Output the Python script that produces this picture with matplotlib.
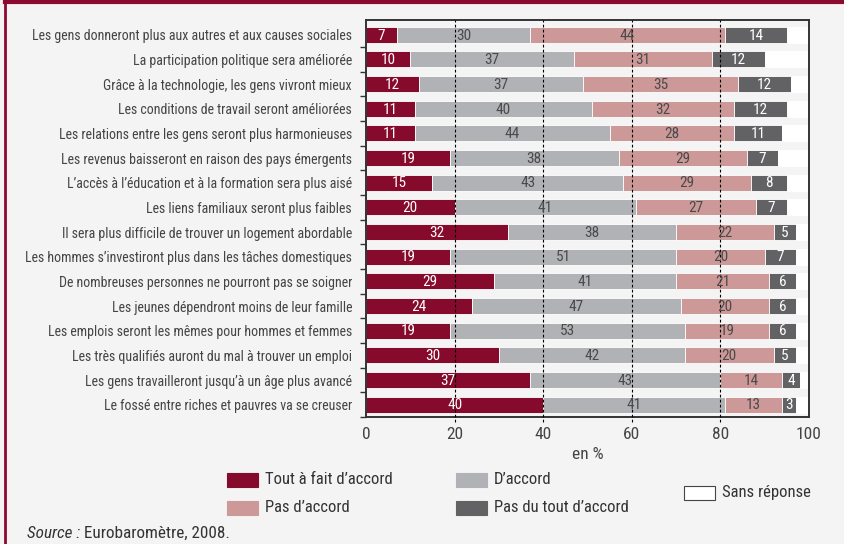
import matplotlib
matplotlib.use("Agg")
import matplotlib.pyplot as plt
from matplotlib import font_manager
from matplotlib.patches import Rectangle
from matplotlib.lines import Line2D
import numpy as np

# données (en %)
questions = [
    "Les gens donneront plus aux autres et aux causes sociales",
    "La participation politique sera améliorée",
    "Grâce à la technologie, les gens vivront mieux",
    "Les conditions de travail seront améliorées",
    "Les relations entre les gens seront plus harmonieuses",
    "Les revenus baisseront en raison des pays émergents",
    "L’accès à l’éducation et à la formation sera plus aisé",
    "Les liens familiaux seront plus faibles",
    "Il sera plus difficile de trouver un logement abordable",
    "Les hommes s’investiront plus dans les tâches domestiques",
    "De nombreuses personnes ne pourront pas se soigner",
    "Les jeunes dépendront moins de leur famille",
    "Les emplois seront les mêmes pour hommes et femmes",
    "Les très qualifiés auront du mal à trouver un emploi",
    "Les gens travailleront jusqu’à un âge plus avancé",
    "Le fossé entre riches et pauvres va se creuser",
]
tout_accord = [7, 10, 12, 11, 11, 19, 15, 20, 32, 19, 29, 24, 19, 30, 37, 40]
accord = [30, 37, 37, 40, 44, 38, 43, 41, 38, 51, 41, 47, 53, 42, 43, 41]
pas_accord = [44, 31, 35, 32, 28, 29, 29, 27, 22, 20, 21, 20, 19, 20, 14, 13]
pas_du_tout = [14, 12, 12, 12, 11, 7, 8, 7, 5, 7, 6, 6, 6, 5, 4, 3]
series_names = ["Tout à fait d’accord", "D’accord", "Pas d’accord",
                "Pas du tout d’accord", "Sans réponse"]

colors = ["#850a2b", "#b1b2b6", "#cc9998", "#626264", "#ffffff"]
text_colors = ["white", "#4a4a4a", "#4a4a4a", "white"]
bg = "#f4f4f4"


def pick_font(names):
    avail = {f.name for f in font_manager.fontManager.ttflist}
    for n in names:
        if n in avail:
            return n
    return "DejaVu Sans"


font = pick_font(["Liberation Sans Narrow", "DejaVu Sans Condensed", "Roboto Condensed", "Liberation Sans"])
plt.rcParams["font.family"] = [font, "DejaVu Sans"]

W, H = 844, 544
fig = plt.figure(figsize=(W / 100, H / 100), dpi=100, facecolor=bg)
ax = fig.add_axes([366 / W, 1 - 417 / H, (809 - 366) / W, (417 - 20) / H])
ax.set_facecolor(bg)

data = np.array([tout_accord, accord, pas_accord, pas_du_tout], dtype=float)
sans_rep = 100 - data.sum(axis=0)
all_data = np.vstack([data, sans_rep])
y = np.arange(len(questions))
left = np.zeros(len(questions))
for i, vals in enumerate(all_data):
    ax.barh(y, vals, left=left, height=0.65, color=colors[i],
            edgecolor="white", linewidth=0.6, zorder=2)
    if i < 4:
        for yy, l, v in zip(y, left, vals):
            ax.text(l + v / 2, yy + 0.03, f"{int(v)}", ha="center", va="center",
                    color=text_colors[i], fontsize=11, zorder=4)
    left = left + vals

for xv in [20, 40, 60, 80]:
    ax.axvline(xv, color="black", lw=0.8, ls=(0, (2.5, 2)), zorder=3, clip_on=False,
               ymin=-0.012, ymax=1)

ax.set_xlim(0, 100)
ax.set_ylim(15.4, -0.6)
ax.set_xticks([0, 20, 40, 60, 80, 100])
ax.tick_params(axis="x", length=0, labelsize=12.5, labelcolor="#444444", pad=7)
ax.set_yticks(y)
ax.set_yticklabels(questions)
ax.set_yticks(np.arange(0.5, 16, 1), minor=True)
ax.tick_params(axis="y", which="major", length=0, labelsize=10, labelcolor="#444444", pad=10)
ax.tick_params(axis="y", which="minor", length=4, color="#333333", width=1)
for s in ax.spines.values():
    s.set_color("#333333")
    s.set_linewidth(1.4)
ax.set_xlabel("en %", fontsize=12.5, color="#444444", labelpad=4)

# légende (positions en pixels)
leg_items = [
    (0, 227, 480), (1, 456, 480), (2, 227, 507.5), (3, 456, 507.5), (4, 684, 492.5),
]
for idx, px, py in leg_items:
    fig.patches.append(Rectangle((px / W, 1 - (py + 7) / H), 31 / W, 14 / H,
                                 transform=fig.transFigure, facecolor=colors[idx],
                                 edgecolor="#444444" if idx == 4 else colors[idx],
                                 linewidth=0.8))
    fig.text((px + 38) / W, 1 - py / H, series_names[idx], fontsize=12,
             color="#333333", va="center", ha="left")

t1 = fig.text(27 / W, 1 - 533 / H, "Source :", style="italic", fontsize=12.3,
              color="#333333", va="center")
fig.canvas.draw()
bb = t1.get_window_extent()
fig.text((bb.x1 + 4) / W, 1 - 533 / H, "Eurobaromètre, 2008.", fontsize=12.3,
         color="#333333", va="center")

# cadre
fig.lines.append(Line2D([5 / W, 5 / W], [0, 1], transform=fig.transFigure,
                        color="#8b0a2f", lw=2))
fig.lines.append(Line2D([5 / W, 1], [1 - 1.5 / H, 1 - 1.5 / H],
                        transform=fig.transFigure, color="#8b0a2f", lw=3))

fig.savefig("out.png", dpi=100, facecolor=bg)
